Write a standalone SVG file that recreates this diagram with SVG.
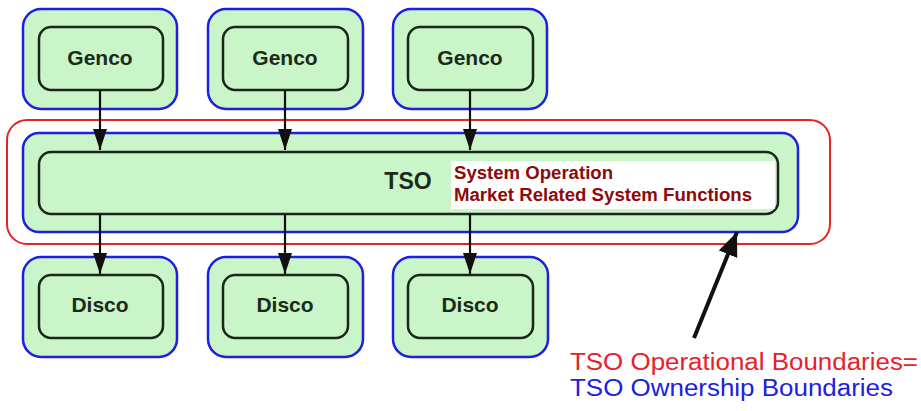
<svg xmlns="http://www.w3.org/2000/svg" width="921" height="411" viewBox="0 0 921 411">
  <style>
    .own { fill: #c9f5c9; stroke: #1f1fe0; stroke-width: 2.5; }
    .unit { fill: #c9f5c9; stroke: #1a261a; stroke-width: 2.5; }
    .op { fill: none; stroke: #e42424; stroke-width: 2; }
    .lbl { font-family: "Liberation Sans", Arial, sans-serif; font-weight: bold; fill: #1c2a1c; text-anchor: middle; }
    .flow { stroke: #111; stroke-width: 2.2; fill: none; }
    .fn { font-family: "Liberation Sans", Arial, sans-serif; font-weight: bold; fill: #8b0a0a; font-size: 18px; }
    .note { font-family: "Liberation Sans", Arial, sans-serif; font-size: 23px; }
  </style>
  <defs>
    <marker id="tri" viewBox="0 0 21 14" refX="21" refY="7" markerWidth="21" markerHeight="14" markerUnits="userSpaceOnUse" orient="auto">
      <path d="M0,0 L21,7 L0,14 z" fill="#111"/>
    </marker>
    <marker id="tri-big" viewBox="0 0 24 20" refX="24" refY="10" markerWidth="24" markerHeight="20" markerUnits="userSpaceOnUse" orient="auto">
      <path d="M0,0 L24,10 L0,20 z" fill="#111"/>
    </marker>
  </defs>

  <rect width="921" height="411" fill="#ffffff"/>

  <!-- generation companies -->
  <g id="genco1">
    <rect class="own" x="23" y="9" width="154" height="100" rx="18"/>
    <rect class="unit" x="39" y="27" width="124" height="63" rx="12"/>
    <text class="lbl" x="100" y="65" font-size="21">Genco</text>
  </g>
  <g id="genco2">
    <rect class="own" x="208" y="9" width="155" height="100" rx="18"/>
    <rect class="unit" x="223" y="27" width="125" height="63" rx="12"/>
    <text class="lbl" x="285" y="65" font-size="21">Genco</text>
  </g>
  <g id="genco3">
    <rect class="own" x="393" y="9" width="154" height="100" rx="18"/>
    <rect class="unit" x="408" y="27" width="125" height="63" rx="12"/>
    <text class="lbl" x="470" y="65" font-size="21">Genco</text>
  </g>

  <!-- transmission system operator -->
  <g id="tso">
    <rect class="op" x="7" y="120" width="823" height="124" rx="20"/>
    <rect class="own" x="23" y="133" width="775" height="99" rx="16"/>
    <rect class="unit" x="39" y="152" width="739" height="62" rx="12"/>
    <text class="lbl" x="408" y="189" font-size="23">TSO</text>
    <rect x="451" y="161" width="324" height="48" fill="#ffffff"/>
    <text class="fn" x="454" y="179" textLength="159" lengthAdjust="spacingAndGlyphs">System Operation</text>
    <text class="fn" x="454" y="201" textLength="298" lengthAdjust="spacingAndGlyphs">Market Related System Functions</text>
  </g>

  <!-- distribution companies -->
  <g id="disco1">
    <rect class="own" x="23" y="257" width="154" height="100" rx="18"/>
    <rect class="unit" x="39" y="275" width="124" height="63" rx="12"/>
    <text class="lbl" x="100" y="312" font-size="21">Disco</text>
  </g>
  <g id="disco2">
    <rect class="own" x="208" y="257" width="155" height="100" rx="18"/>
    <rect class="unit" x="223" y="275" width="125" height="63" rx="12"/>
    <text class="lbl" x="285" y="312" font-size="21">Disco</text>
  </g>
  <g id="disco3">
    <rect class="own" x="393" y="257" width="155" height="100" rx="18"/>
    <rect class="unit" x="408" y="275" width="125" height="63" rx="12"/>
    <text class="lbl" x="470" y="312" font-size="21">Disco</text>
  </g>

  <!-- power flow connectors -->
  <g id="connectors">
    <line class="flow" x1="100" y1="90" x2="100" y2="150" marker-end="url(#tri)"/>
    <line class="flow" x1="285" y1="90" x2="285" y2="150" marker-end="url(#tri)"/>
    <line class="flow" x1="470" y1="90" x2="470" y2="150" marker-end="url(#tri)"/>
    <line class="flow" x1="100" y1="214" x2="100" y2="274" marker-end="url(#tri)"/>
    <line class="flow" x1="285" y1="214" x2="285" y2="274" marker-end="url(#tri)"/>
    <line class="flow" x1="470" y1="214" x2="470" y2="274" marker-end="url(#tri)"/>
    <line stroke="#111" stroke-width="4" x1="694" y1="338" x2="737" y2="232" marker-end="url(#tri-big)"/>
  </g>

  <!-- boundary legend -->
  <g id="legend">
    <text class="note" x="570" y="370" fill="#e8202a" textLength="348" lengthAdjust="spacingAndGlyphs">TSO Operational Boundaries=</text>
    <text class="note" x="570" y="396" fill="#2020e0" textLength="323" lengthAdjust="spacingAndGlyphs">TSO Ownership Boundaries</text>
  </g>
</svg>
